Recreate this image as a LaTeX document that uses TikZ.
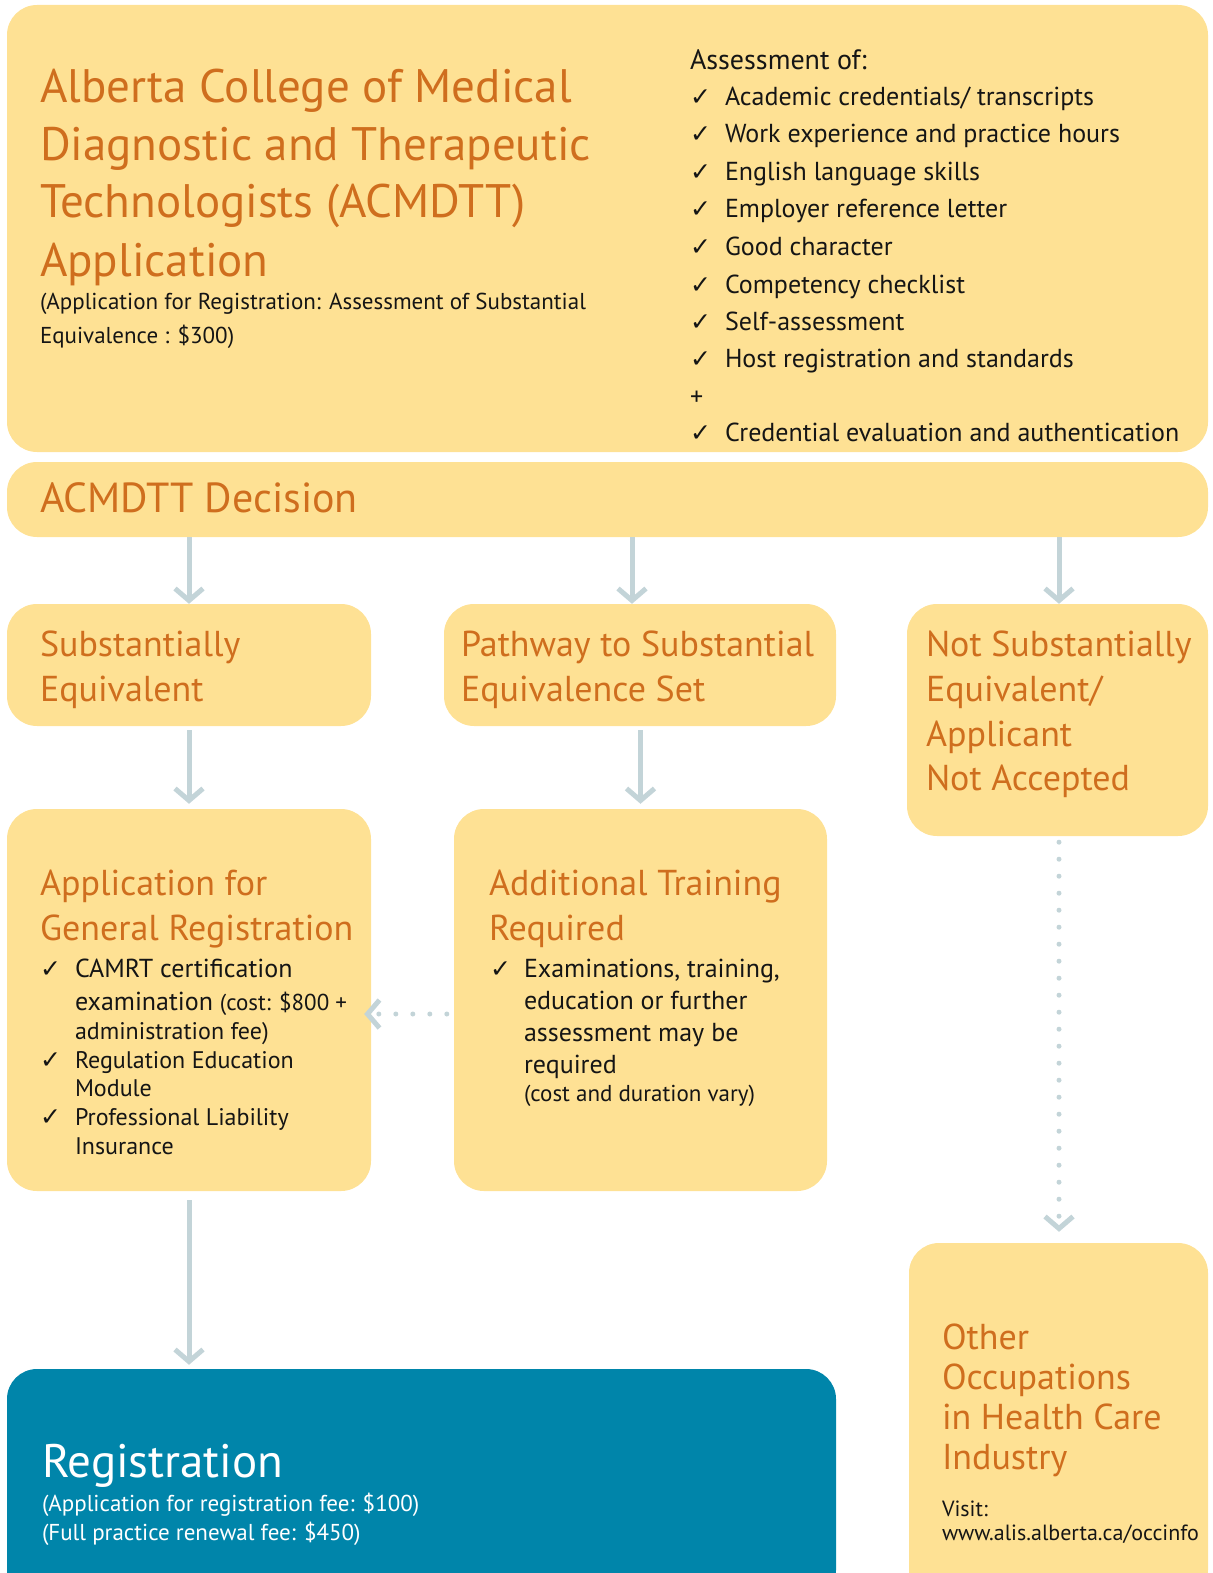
\documentclass[tikz,border=0pt]{standalone}
\usepackage{fontspec}
\setmainfont{PT Sans}
\newfontfamily\sym{DejaVu Sans}
\usetikzlibrary{arrows.meta}
\definecolor{boxy}{HTML}{FEE194}
\definecolor{orng}{HTML}{CF6E1E}
\definecolor{regb}{HTML}{0085AA}
\definecolor{arrowc}{HTML}{C3D4D8}
\definecolor{ink}{HTML}{151515}
\tikzset{
  ybox/.style={fill=boxy, draw=none, rounded corners=30pt, inner sep=0pt, rectangle},
  tx/.style={anchor=base west, inner sep=0pt, outer sep=0pt},
  ttl/.style={tx, text=orng, font=\fontsize{47}{47}\selectfont},
  hd/.style={tx, text=orng, font=\fontsize{36}{36}\selectfont},
  li/.style={tx, text=ink, font=\fontsize{26}{26}\selectfont},
  lj/.style={tx, text=ink, font=\fontsize{24}{24}\selectfont},
  sm/.style={tx, text=ink, font=\fontsize{23}{23}\selectfont},
  ck/.style={tx, text=ink, font=\sym\fontsize{25}{25}\selectfont},
  arr/.style={draw=arrowc, line width=5pt, -{Straight Barb[length=12pt, width=28pt, line width=5pt]}},
  dotarr/.style={draw=arrowc, line width=5pt, line cap=round, dash pattern=on 0pt off 17pt, -{Straight Barb[length=12pt, width=28pt, line width=5pt, line cap=butt]}}
}
\begin{document}
\begin{tikzpicture}[x=1pt,y=-1pt]
\useasboundingbox (0,0) rectangle (1212,1573);
\clip (0,0) rectangle (1212,1573);
% boxes
\node[ybox, minimum width=1201pt, minimum height=447pt] (top) at (607.5,228.5) {};
\node[ybox, minimum width=1201pt, minimum height=75pt] (dec) at (607.5,499.5) {};
\node[ybox, minimum width=364pt, minimum height=122pt] (se) at (189,665) {};
\node[ybox, minimum width=392pt, minimum height=122pt] (pw) at (640,665) {};
\node[ybox, minimum width=301pt, minimum height=232pt] (ns) at (1057.5,720) {};
\node[ybox, minimum width=364pt, minimum height=382pt] (ag) at (189,1000) {};
\node[ybox, minimum width=373pt, minimum height=382pt] (at) at (640.5,1000) {};
\node[ybox, fill=regb, minimum width=829pt, minimum height=231pt] (reg) at (421.5,1484.5) {};
\node[ybox, minimum width=299pt, minimum height=357pt] (oo) at (1058.5,1421.5) {};

% top box text
\node[ttl] (t1) at (40,103) {Alberta College of Medical};
\node[ttl] (t2) at (40,161) {Diagnostic and Therapeutic};
\node[ttl] (t3) at (40,218) {Technologists (ACMDTT)};
\node[ttl] (t4) at (40,276) {Application};
\node[sm] (t5) at (40,309) {(Application for Registration: Assessment of Substantial};
\node[sm] (t6) at (40,343) {Equivalence : \$300)};

\node[tx, text=ink, font=\fontsize{28}{28}\selectfont] (a0) at (690,70) {Assessment of:};
\node[ck] (c1) at (690,106) {✓}; \node[li] (a1) at (725,106) {Academic credentials/ transcripts};
\node[ck] (c2) at (690,143) {✓}; \node[li] (a2) at (725,143) {Work experience and practice hours};
\node[ck] (c3) at (690,181) {✓}; \node[li] (a3) at (725,181) {English language skills};
\node[ck] (c4) at (690,218) {✓}; \node[li] (a4) at (725,218) {Employer reference letter};
\node[ck] (c5) at (690,255) {✓}; \node[li] (a5) at (725,255) {Good character};
\node[ck] (c6) at (690,293) {✓}; \node[li] (a6) at (725,293) {Competency checklist};
\node[ck] (c7) at (690,330) {✓}; \node[li] (a7) at (725,330) {Self-assessment};
\node[ck] (c8) at (690,367) {✓}; \node[li] (a8) at (725,367) {Host registration and standards};
\node[li] (ap) at (690,405) {+};
\node[ck] (c9) at (690,441) {✓}; \node[li] (a9) at (725,441) {Credential evaluation and authentication};

% decision
\node[tx, text=orng, font=\fontsize{42}{42}\selectfont] (d1) at (40,512) {ACMDTT Decision};

% second row
\node[hd] (s1) at (40,656) {Substantially};
\node[hd] (s2) at (40,701) {Equivalent};
\node[hd] (p1) at (461,656) {Pathway to Substantial};
\node[hd] (p2) at (461,701) {Equivalence Set};
\node[hd] (n1) at (926,656) {Not Substantially};
\node[hd] (n2) at (926,701) {Equivalent/};
\node[hd] (n3) at (926,746) {Applicant};
\node[hd] (n4) at (926,790) {Not Accepted};

% general registration
\node[hd] (g1) at (40,895) {Application for};
\node[hd] (g2) at (40,940) {General Registration};
\node[ck] (gc1) at (40,977) {✓}; \node[li] (g3) at (75,977) {CAMRT certification};
\node[li] (g4) at (75,1010) {examination {\fontsize{23}{23}\selectfont(cost: \$800 +}};
\node[lj] (g5) at (75,1039) {administration fee)};
\node[ck] (gc2) at (40,1068) {✓}; \node[lj] (g6) at (75,1068) {Regulation Education};
\node[lj] (g7) at (75,1096) {Module};
\node[ck] (gc3) at (40,1125) {✓}; \node[lj] (g8) at (75,1125) {Professional Liability};
\node[lj] (g9) at (75,1154) {Insurance};

% additional training
\node[hd] (r1) at (489,895) {Additional Training};
\node[hd] (r2) at (489,940) {Required};
\node[ck] (rc1) at (490,977) {✓}; \node[li] (r3) at (524,977) {Examinations, training,};
\node[li] (r4) at (524,1009) {education or further};
\node[li] (r5) at (524,1041) {assessment may be};
\node[li] (r6) at (524,1073) {required};
\node[sm] (r7) at (524,1101) {(cost and duration vary)};

% registration
\node[tx, text=white, font=\fontsize{47}{47}\selectfont] (e1) at (42,1477) {Registration};
\node[sm, text=white] (e2) at (42,1511) {(Application for registration fee: \$100)};
\node[sm, text=white] (e3) at (42,1540) {(Full practice renewal fee: \$450)};

% other occupations
\node[tx, text=orng, font=\fontsize{36}{36}\selectfont] (o1) at (942,1349) {Other};
\node[tx, text=orng, font=\fontsize{36}{36}\selectfont] (o2) at (942,1389) {Occupations};
\node[tx, text=orng, font=\fontsize{36}{36}\selectfont] (o3) at (942,1429) {in Health Care};
\node[tx, text=orng, font=\fontsize{36}{36}\selectfont] (o4) at (942,1469) {Industry};
\node[tx, text=ink, font=\fontsize{22}{22}\selectfont] (o5) at (942,1516) {Visit:};
\node[tx, text=ink, font=\fontsize{22}{22}\selectfont] (o6) at (942,1540) {www.alis.alberta.ca/occinfo};

% connectors
\draw[arr] (dec.south -| se.north) -- (se.north);
\draw[arr] ([xshift=-8pt]dec.south -| pw.north) -- ([xshift=-8pt]pw.north);
\draw[arr] ([xshift=1.5pt]dec.south -| ns.north) -- ([xshift=1.5pt]ns.north);
\draw[arr] ([yshift=-4pt]se.south) -- ([yshift=5pt]ag.north);
\draw[arr] ([yshift=-4pt]se.south -| at.north) -- ([yshift=5pt]at.north);
\draw[arr] ([yshift=-9pt]ag.south) -- ([yshift=4pt]reg.north -| ag.south);
\draw[dotarr] ([xshift=-7pt]at.west |- 0,1014) -- ([xshift=-7pt]ag.east |- 0,1014);
\draw[dotarr] ([xshift=1.5pt,yshift=-6pt]ns.south) -- ([xshift=0.5pt,yshift=11pt]oo.north);
\end{tikzpicture}
\end{document}
